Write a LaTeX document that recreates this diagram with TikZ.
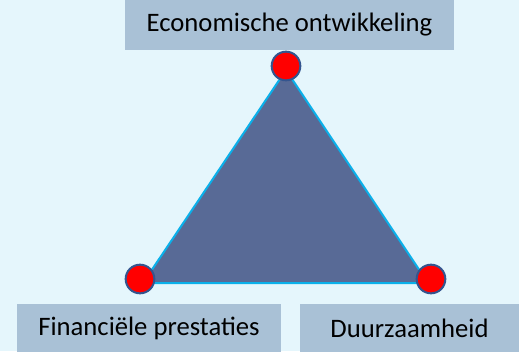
\documentclass[tikz,border=0pt]{standalone}
\usepackage{fontspec}
\setmainfont{Carlito}
\usepackage{xcolor}
\usetikzlibrary{positioning,calc}

\definecolor{bgcyan}{HTML}{E5F6FC}
\definecolor{labelbox}{HTML}{A9C1D6}
\definecolor{trifill}{HTML}{586A96}
\definecolor{triedge}{HTML}{0AB0EA}
\definecolor{dotedge}{HTML}{34558F}

\tikzset{
    labelbox/.style={fill=labelbox, inner sep=0pt, font=\fontsize{20}{24}\selectfont},
    cornerdot/.style={circle, fill=red, draw=dotedge, line width=1.5pt, minimum size=21.5pt, inner sep=0pt}
}

\begin{document}
\begin{tikzpicture}[x=0.75pt, y=-0.75pt]
        % Background
        \fill[bgcyan] (0,0) rectangle (519,351);
        \useasboundingbox (0,0) rectangle (519,351);

        % Labels
        \node[labelbox, minimum width=246.75pt, minimum height=37.5pt] (econ) at (289.5,25) {Economische ontwikkeling};
        \node[labelbox, minimum width=198pt, minimum height=36pt] (fin) at (149,328) {Financiële prestaties};
        \node[labelbox, minimum width=164.25pt, minimum height=36pt] (duur) at (409.5,328) {Duurzaamheid};

        % Triangle
        \coordinate (ctop) at (286,70);
        \coordinate (cleft) at (143,283);
        \coordinate (cright) at (428,283);
        \filldraw[fill=trifill, draw=triedge, line width=1.5pt, line join=round] (ctop) -- (cleft) -- (cright) -- cycle;

        % Corner dots
        \node[cornerdot] (dtop) at (286,66) {};
        \node[cornerdot] (dleft) at (140,279) {};
        \node[cornerdot] (dright) at (431,279) {};
\end{tikzpicture}
\end{document}
